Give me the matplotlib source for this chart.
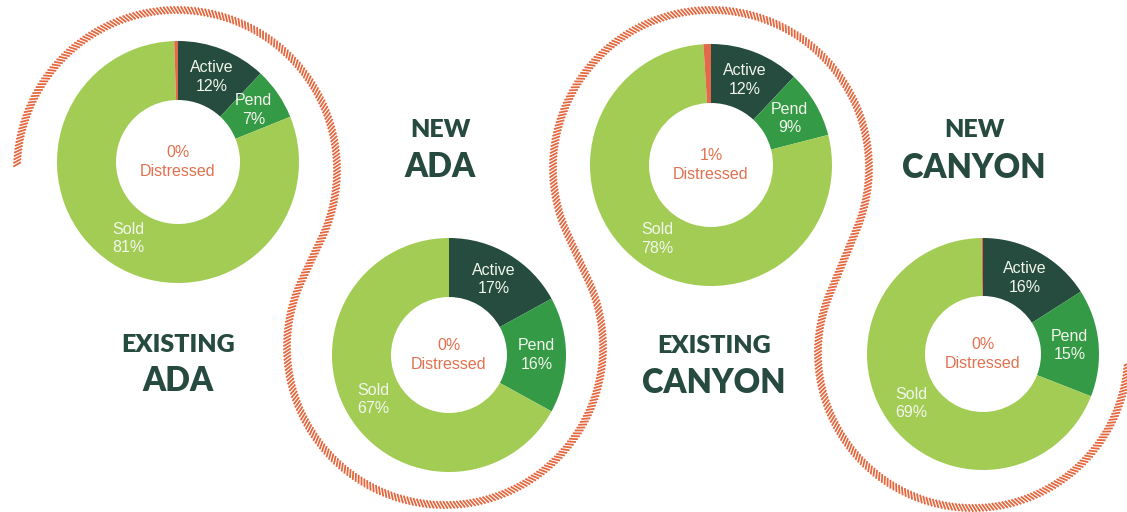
import numpy as np
import matplotlib
matplotlib.use("Agg")
import matplotlib.pyplot as plt
from matplotlib.collections import LineCollection

# ---------------- data ----------------
title_top = ["EXISTING", "NEW", "EXISTING", "NEW"]
title_bottom = ["ADA", "ADA", "CANYON", "CANYON"]
segment_names = ["Active", "Pend", "Sold", "Distressed"]
active = [12, 17, 12, 16]
pend = [7, 16, 9, 15]
sold = [81, 67, 78, 69]
distressed = [0.5, 0.0, 1.0, 0.2]
distressed_label = ["0%", "0%", "1%", "0%"]

# ---------------- style / layout ----------------
W, H = 1127, 512
C_ACTIVE = "#264b3f"
C_PEND = "#349a46"
C_SOLD = "#a3cc55"
C_DIST = "#e2694a"
C_TITLE = "#264a3f"
C_LABEL = "#f2f6ec"
C_CENTER = "#e2714f"
C_STRIPE = "#e4683f"
colors = [C_ACTIVE, C_PEND, C_SOLD, C_DIST]

# donut geometry in pixel coordinates (y measured from top)
centers_px = [(178, 162), (449, 355), (711, 165), (983, 354)]
outer_r = [121, 117, 121, 116]
inner_r = [62, 58, 62, 58]
title_x = [178, 440, 714, 974]
title_y1 = [352, 137, 353, 137]
title_y2 = [391, 177, 393, 178]

# decorative hatched S-curve (circles around each donut)
ring_centers_px = [(177, 170), (445, 347), (711, 168), (973, 353)]
ring_r = [160, 158, 158, 155]
ring_dir = [-1, 1, -1, 1]

LABEL_FONT = ["Liberation Sans", "DejaVu Sans"]
TITLE_FONT = ["Lato", "DejaVu Sans"]


def to_data(p):
    return np.array([p[0], H - p[1]], dtype=float)


fig = plt.figure(figsize=(W / 100, H / 100), dpi=100)
ax = fig.add_axes([0, 0, 1, 1])
ax.set_facecolor("white")

# ---------------- hatched curve ----------------
def tangent(c1, r1, d1, c2, r2):
    d = c2 - c1
    D = np.hypot(*d)
    u = d / D
    p = np.array([-u[1], u[0]])
    k = (r1 + r2) / D
    h = np.sqrt(max(0.0, 1 - k * k))
    for s in (1, -1):
        n = k * u + s * h * p
        P1 = c1 + r1 * n
        P2 = c2 - r2 * n
        t1 = np.arctan2(n[1], n[0])
        tang = d1 * np.array([-np.sin(t1), np.cos(t1)])
        if np.dot(P2 - P1, tang) > 0:
            return t1, np.arctan2(-n[1], -n[0])


rc = [to_data(c) for c in ring_centers_px]
entries = [np.deg2rad(178)]
exits = []
for i in range(3):
    a_out, a_in = tangent(rc[i], ring_r[i], ring_dir[i], rc[i + 1], ring_r[i + 1])
    exits.append(a_out)
    entries.append(a_in)
exits.append(np.deg2rad(356))

pts = []
for i in range(4):
    a0, a1 = entries[i], exits[i]
    if ring_dir[i] < 0:
        while a1 > a0:
            a1 -= 2 * np.pi
        while a1 < a0 - 2 * np.pi:
            a1 += 2 * np.pi
    else:
        while a1 < a0:
            a1 += 2 * np.pi
        while a1 > a0 + 2 * np.pi:
            a1 -= 2 * np.pi
    t = np.linspace(a0, a1, 600)
    pts.append(np.column_stack([rc[i][0] + ring_r[i] * np.cos(t),
                                rc[i][1] + ring_r[i] * np.sin(t)]))
path = np.vstack(pts)
seg = np.hypot(*np.diff(path, axis=0).T)
s = np.concatenate([[0], np.cumsum(seg)])
spacing = 3.4
ss = np.arange(0, s[-1], spacing)
xs = np.interp(ss, s, path[:, 0])
ys = np.interp(ss, s, path[:, 1])
tx = np.gradient(xs)
ty = np.gradient(ys)
nrm = np.hypot(tx, ty)
tx /= nrm
ty /= nrm
ang = np.deg2rad(-58)
vx = tx * np.cos(ang) - ty * np.sin(ang)
vy = tx * np.sin(ang) + ty * np.cos(ang)
band = 7.5
L = band / abs(np.sin(ang))
stripes = np.stack([np.column_stack([xs - vx * L / 2, ys - vy * L / 2]),
                    np.column_stack([xs + vx * L / 2, ys + vy * L / 2])], axis=1)
lc = LineCollection(stripes, colors=C_STRIPE, linewidths=1.3, capstyle="butt", zorder=1)
ax.add_collection(lc)

# ---------------- donuts ----------------
for i in range(4):
    vals = [active[i], pend[i], sold[i], distressed[i]]
    c = to_data(centers_px[i])
    R, r = outer_r[i], inner_r[i]
    wedges, _ = ax.pie(vals, colors=colors, startangle=90, counterclock=False,
                       center=(c[0], c[1]), radius=R,
                       wedgeprops=dict(width=R - r, edgecolor="none", linewidth=0))
    for w in wedges:
        w.set_zorder(2)
    rm = (R + r) / 2
    for j in range(3):
        w = wedges[j]
        mid = np.deg2rad((w.theta1 + w.theta2) / 2)
        ax.text(c[0] + rm * np.cos(mid), c[1] + rm * np.sin(mid),
                f"{segment_names[j]}\n{round(vals[j])}%",
                ha="center", va="center", fontsize=11.5, color=C_LABEL,
                family=LABEL_FONT, linespacing=1.3, zorder=3)
    ax.text(c[0], c[1], f"{distressed_label[i]}\n{segment_names[3]}",
            ha="center", va="center", fontsize=11.5, color=C_CENTER,
            family=LABEL_FONT, linespacing=1.3, zorder=3)

# ---------------- titles ----------------
for i in range(4):
    ax.text(title_x[i], H - title_y1[i], title_top[i], ha="center", va="baseline",
            fontsize=18, fontweight="heavy", color=C_TITLE, family=TITLE_FONT)
    ax.text(title_x[i], H - title_y2[i], title_bottom[i], ha="center", va="baseline",
            fontsize=23.5, fontweight="heavy", color=C_TITLE, family=TITLE_FONT)

ax.set_xlim(0, W)
ax.set_ylim(0, H)
ax.set_aspect("equal")
ax.axis("off")
fig.savefig("out.png", dpi=100, facecolor="white")
